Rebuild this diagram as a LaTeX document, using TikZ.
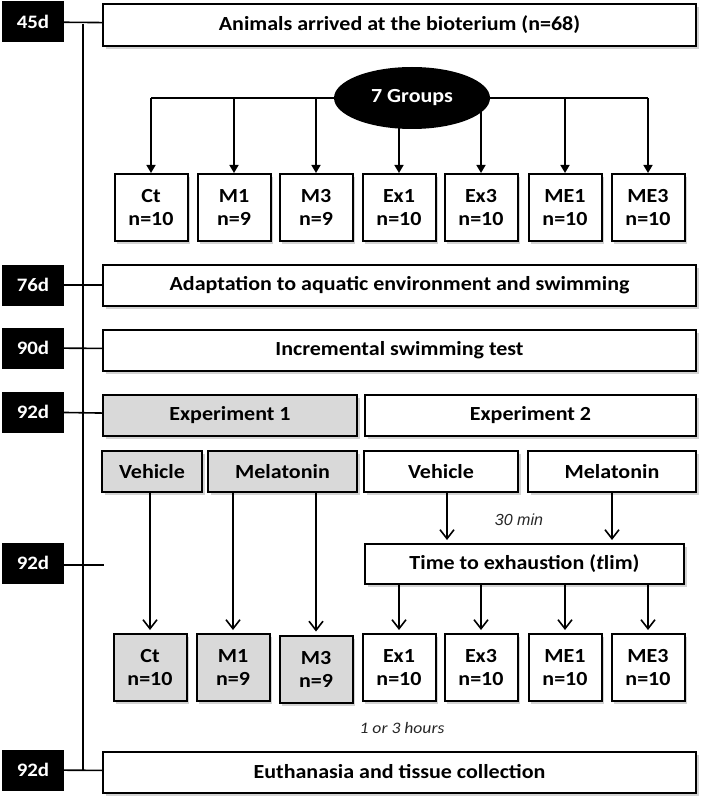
\documentclass[tikz,border=0pt]{standalone}
\usepackage{fontspec}
\setmainfont{Carlito}[FakeStretch=1.1]
\newfontfamily\notefont{Liberation Sans}
\usetikzlibrary{arrows.meta,shapes.geometric,shadows}
\definecolor{boxgray}{HTML}{D9D9D9}
\tikzset{
  daybox/.style={fill=black, text=white, font=\bfseries\fontsize{19}{21}\selectfont,
    minimum width=62pt, minimum height=41pt, inner sep=0pt},
  stagebox/.style={draw, line width=2pt, fill=white, font=\bfseries\fontsize{20}{23}\selectfont,
    minimum height=41pt, inner sep=0pt,
    drop shadow={shadow xshift=2.5pt, shadow yshift=-3pt, opacity=0.35}},
  groupbox/.style={stagebox, minimum width=73pt, minimum height=67pt, align=center},
  link/.style={line width=1.6pt},
  tip/.style={link, -{Triangle[length=8pt,width=9pt]}},
  barb/.style={link, shorten >=3pt, -{Straight Barb[length=9pt,width=14pt]}},
}
\begin{document}
\begin{tikzpicture}[x=1pt, y=-1pt]
  \useasboundingbox (0,0) rectangle (708,805);
  % timeline
  \coordinate (tltop) at (83,24);
  \coordinate (tlbot) at (83,771);
  \coordinate (tick) at (104,565);
  \coordinate (gc) at (412,98);
  \draw[link] (tltop) -- (tlbot);

  % day labels
  \node[daybox] (d45) at (33,22) {45d};
  \node[daybox] (d76) at (33,285) {76d};
  \node[daybox] (d90) at (33,348) {90d};
  \node[daybox] (d92a) at (33,412) {92d};
  \node[daybox] (d92b) at (33,563) {92d};
  \node[daybox] (d92c) at (33,770) {92d};

  % stages
  \node[stagebox, minimum width=593pt, minimum height=42pt] (arrive) at (399.5,25) {Animals arrived at the bioterium (n=68)};
  \node[stagebox, minimum width=593pt] (adapt) at (399.5,285) {Adaptation to aquatic environment and swimming};
  \node[stagebox, minimum width=593pt] (incr) at (399.5,350) {Incremental swimming test};
  \node[stagebox, minimum width=254pt, fill=boxgray] (exp1) at (230,415) {Experiment 1};
  \node[stagebox, minimum width=331pt] (exp2) at (530.5,415) {Experiment 2};
  \node[stagebox, minimum width=100pt, fill=boxgray] (veh1) at (152,471.5) {Vehicle};
  \node[stagebox, minimum width=149pt, fill=boxgray] (mel1) at (282.5,471.5) {Melatonin};
  \node[stagebox, minimum width=154pt] (veh2) at (441,471.5) {Vehicle};
  \node[stagebox, minimum width=168pt] (mel2) at (612,471.5) {Melatonin};
  \node[stagebox, minimum width=319pt, minimum height=40pt] (tlim) at (524.5,564) {Time to exhaustion (\textit{t}lim)};
  \node[stagebox, minimum width=593pt] (euth) at (399.5,772) {Euthanasia and tissue collection};

  \draw[link] (d45) -- (arrive);
  \draw[link] (d76) -- (adapt);
  \draw[link] (d90) -- (incr);
  \draw[link] (d92a) -- (exp1);
  \draw[link] (d92b.east |- tick) -- (tick);
  \draw[link] (d92c) -- (euth);

  % groups
  \foreach \g/\n/\x in {Ct/10/151, M1/9/234, M3/9/316, Ex1/10/399, Ex3/10/481, ME1/10/565, ME3/10/648}
    \node[groupbox] (t\g) at (\x,207.5) {\g\\n=\n};
  \foreach \g/\n/\x/\y/\c in {Ct/10/150/667.5/boxgray, M1/9/233/667.5/boxgray, M3/9/316/669/boxgray,
      Ex1/10/399/667.5/white, Ex3/10/481/667.5/white, ME1/10/565/667.5/white, ME3/10/648/667.5/white}
    \node[groupbox, fill=\c] (b\g) at (\x,\y) {\g\\n=\n};

  \draw[link] (tCt.north |- gc) -- (tME3.north |- gc);
  \foreach \g in {Ct,M1,M3,Ex1,Ex3,ME1,ME3}
    \draw[tip] (t\g.north |- gc) -- (t\g.north);
  \node[ellipse, fill=black, text=white, font=\bfseries\fontsize{20}{23}\selectfont,
    minimum width=156pt, minimum height=62pt, inner sep=0pt] (groups) at (gc) {7 Groups};

  % experiment arrows
  \draw[barb] (veh1.south -| bCt.north) -- (bCt.north);
  \draw[barb] (mel1.south -| bM1.north) -- (bM1.north);
  \draw[barb] (mel1.south -| bM3.north) -- (bM3.north);
  \draw[barb] ([xshift=6pt]veh2.south) -- ([xshift=6pt]veh2.south |- tlim.north);
  \draw[barb] (mel2.south) -- (mel2.south |- tlim.north);
  \foreach \g in {Ex1,Ex3,ME1,ME3}
    \draw[barb] (tlim.south -| b\g.north) -- (b\g.north);

  \node[font=\notefont\itshape\fontsize{16}{18}\selectfont, text=black!85] (wait) at (519,520) {30 min};
  \node[font=\itshape\fontsize{16}{18}\selectfont, text=black!85] (hours) at (402,728) {1 or 3 hours};
\end{tikzpicture}
\end{document}
